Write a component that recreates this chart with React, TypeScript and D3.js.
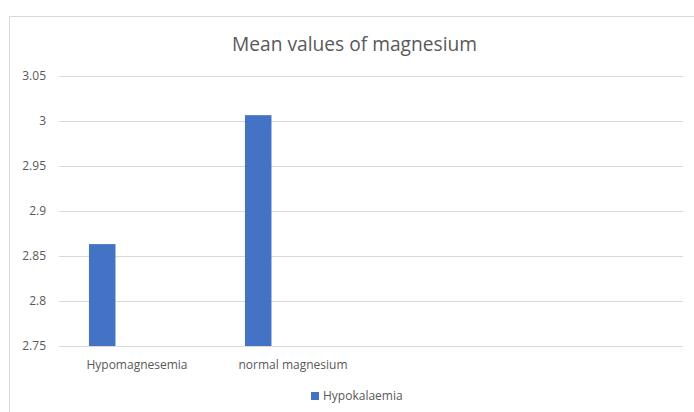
import React from "react";
import * as d3 from "d3";

const title = "Mean values of magnesium";
const categories = ["Hypomagnesemia", "normal magnesium", "", ""];
const seriesName = "Hypokalaemia";
const values: (number | null)[] = [2.863, 3.006, null, null];
const yTicks = [2.75, 2.8, 2.85, 2.9, 2.95, 3, 3.05];

const W = 694;
const H = 412;
const FONT = "'Open Sans', 'Liberation Sans', sans-serif";
const TEXT = "#595959";
const GRID = "#d9d9d9";
const BAR = "#4472c4";

export default function App() {
  const plotLeft = 59;
  const plotRight = 683;
  const plotTop = 75.5;
  const plotBottom = 346;

  const y = d3.scaleLinear().domain([2.75, 3.05]).range([plotBottom, plotTop]);
  const x = d3
    .scaleBand<number>()
    .domain(categories.map((_, i) => i))
    .range([plotLeft, plotRight])
    .padding(0);
  const bw = x.bandwidth();
  const barOffset = bw * 0.192;
  const barWidth = bw * 0.17;

  return (
    <svg
      width={W}
      height={H}
      style={{ position: "absolute", left: 0, top: 0, background: "#fff" }}
      fontFamily={FONT}
    >
      <rect x={9.5} y={16.5} width={720} height={420} fill="#fff" stroke={GRID} strokeWidth={1} />
      <text x={354.5} y={51} textAnchor="middle" fontSize={19.2} fill={TEXT}>
        {title}
      </text>
      {yTicks.map((t) => (
        <g key={t}>
          <line x1={plotLeft} x2={plotRight} y1={Math.round(y(t)) + 0.5} y2={Math.round(y(t)) + 0.5} stroke={GRID} strokeWidth={1} />
          <text x={46} y={y(t) + 4} textAnchor="end" fontSize={12} fill={TEXT}>
            {String(t)}
          </text>
        </g>
      ))}
      {values.map((v, i) =>
        v == null ? null : (
          <rect
            key={i}
            x={(x(i) as number) + barOffset}
            y={y(v)}
            width={barWidth}
            height={y(2.75) - y(v)}
            fill={BAR}
          />
        )
      )}
      {categories.map((c, i) => (
        <text key={i} x={(x(i) as number) + bw / 2} y={369} textAnchor="middle" fontSize={12} fill={TEXT}>
          {c}
        </text>
      ))}
      <rect x={311} y={392} width={8} height={8} fill={BAR} />
      <text x={323} y={400} fontSize={12} fill={TEXT}>
        {seriesName}
      </text>
    </svg>
  );
}
